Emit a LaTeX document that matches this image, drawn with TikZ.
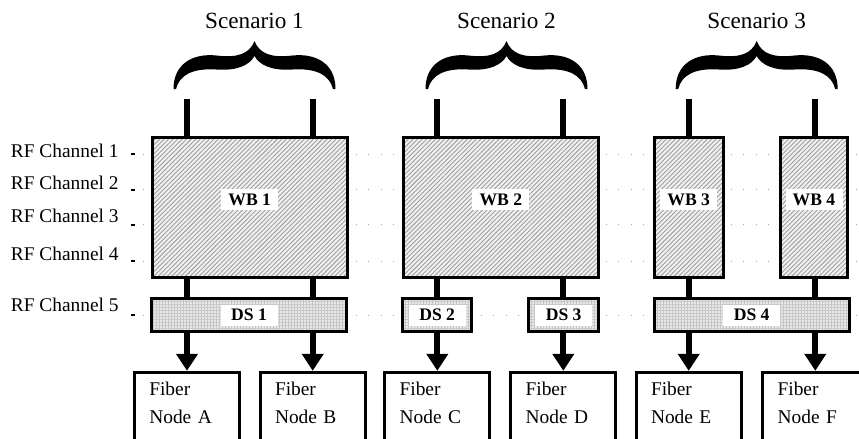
\documentclass[tikz,border=0pt]{standalone}
\usepackage{fontspec}
\setmainfont{Liberation Serif}
\usetikzlibrary{arrows.meta,patterns.meta}

\tikzset{
  wb box/.style={draw, line width=1.5pt, inner sep=0pt, minimum height=70.3pt,
    preaction={fill=gray!12},
    pattern={Lines[angle=45,distance=1.6pt,line width=0.45pt]}, pattern color=gray!75},
  ds box/.style={draw, line width=1.5pt, inner sep=0pt, minimum height=16.2pt,
    preaction={fill=gray!18},
    pattern={Hatch[angle=0,distance=1.5pt,line width=0.3pt]}, pattern color=gray!45},
  box label/.style={fill=white, inner sep=0pt, minimum width=28.5pt, minimum height=10.5pt,
    font=\fontsize{8.8}{10}\selectfont\bfseries},
  fiber/.style={draw, line width=1.5pt, anchor=north, minimum width=52.5pt,
    text width=37.7pt, align=left, inner xsep=7.4pt, inner ysep=5pt, text depth=40pt,
    font=\fontsize{9.7}{14}\selectfont},
  rf label/.style={anchor=base east, inner sep=0pt, font=\fontsize{9.7}{12}\selectfont},
  scenario/.style={anchor=base, inner sep=0pt, font=\fontsize{11.6}{14}\selectfont},
  rf line/.style={gray!70, line width=0.5pt, dash pattern=on 0.5pt off 5.75pt},
  rf tick/.style={line width=1pt},
  stem/.style={line width=3pt}
}

\begin{document}
\begin{tikzpicture}[x=0.5pt, y=-0.5pt, >={Triangle[length=8.5pt,width=10.5pt]}]

\useasboundingbox (0,0) rectangle (859,439);
\clip (0,0) rectangle (859,439);

% rf channels and their dotted rows
\foreach \b/\d [count=\i] in {157/154, 190/189.5, 222/224.5, 260/261, 311/315}
{
  \node [rf label] (rf-\i) at (119,\b) {RF Channel \i};
  \coordinate (rfstart-\i) at (131,\d);
  \coordinate (rfend-\i) at (859,\d);
  \draw [rf tick] (rfstart-\i) -- ++(3.5,0);
  \draw [rf line] (rfstart-\i) ++(12.3,0) -- (rfend-\i);
}

% wide band boxes
\foreach \x/\w [count=\i] in {249.7/97.5, 500.85/97.65, 688.7/34.5, 814/33.5}
  \node [wb box, minimum width=\w pt] (wb-\i) at (\x,207.5) {};

% downstream boxes
\foreach \x/\w [count=\i] in {249/97.5, 437.2/34.65, 563.7/34.85, 751.7/97.5}
  \node [ds box, minimum width=\w pt] (ds-\i) at (\x,315) {};

% box labeling
\foreach \i in {1,...,4}
  \node [box label] (wblabel-\i) at ([yshift=4pt]wb-\i.center) {WB \i};
\foreach \i in {1,...,4}
  \node [box label] (dslabel-\i) at (ds-\i.center) {DS \i};

% fiber nodes
\foreach \x/\l [count=\i] in {187/A, 312.7/B, 437.3/C, 563.3/D, 688.7/E, 815.3/F}
  \node [fiber] (fib-\i) at (\x,370.8) {Fiber\\Node \l};

% stems and arrows
\foreach \x/\w/\d [count=\i] in {187/1/1, 312.7/1/1, 437.3/2/2, 563.3/2/3, 688.7/3/4, 815.3/4/4}
{
  \coordinate (top-\i) at (\x,99);
  \draw [stem] (top-\i) -- (top-\i |- wb-\w.north);
  \draw [stem] (top-\i |- wb-\w.south) -- (top-\i |- ds-\d.north);
  \draw [stem, ->] (top-\i |- ds-\d.south) -- (fib-\i.north);
}

% scenario braces
\foreach \c [count=\i] in {254.5, 506.5, 756.7}
{
  \fill ({\c-81},89) .. controls ({\c-81},64) and ({\c-62},53) .. ({\c-38},55.5)
    .. controls ({\c-17},58) and ({\c-5},54) .. (\c,41)
    .. controls ({\c+5},54) and ({\c+17},58) .. ({\c+38},55.5)
    .. controls ({\c+62},53) and ({\c+81},64) .. ({\c+81},89)
    -- ({\c+78.5},89)
    .. controls ({\c+75},75) and ({\c+62},68) .. ({\c+38},69.5)
    .. controls ({\c+17},71) and ({\c+5},65) .. (\c,56)
    .. controls ({\c-5},65) and ({\c-17},71) .. ({\c-38},69.5)
    .. controls ({\c-62},68) and ({\c-75},75) .. ({\c-78.5},89) -- cycle;
  \node [scenario] (scen-\i) at (\c,28.5) {Scenario \i};
}

\end{tikzpicture}
\end{document}
